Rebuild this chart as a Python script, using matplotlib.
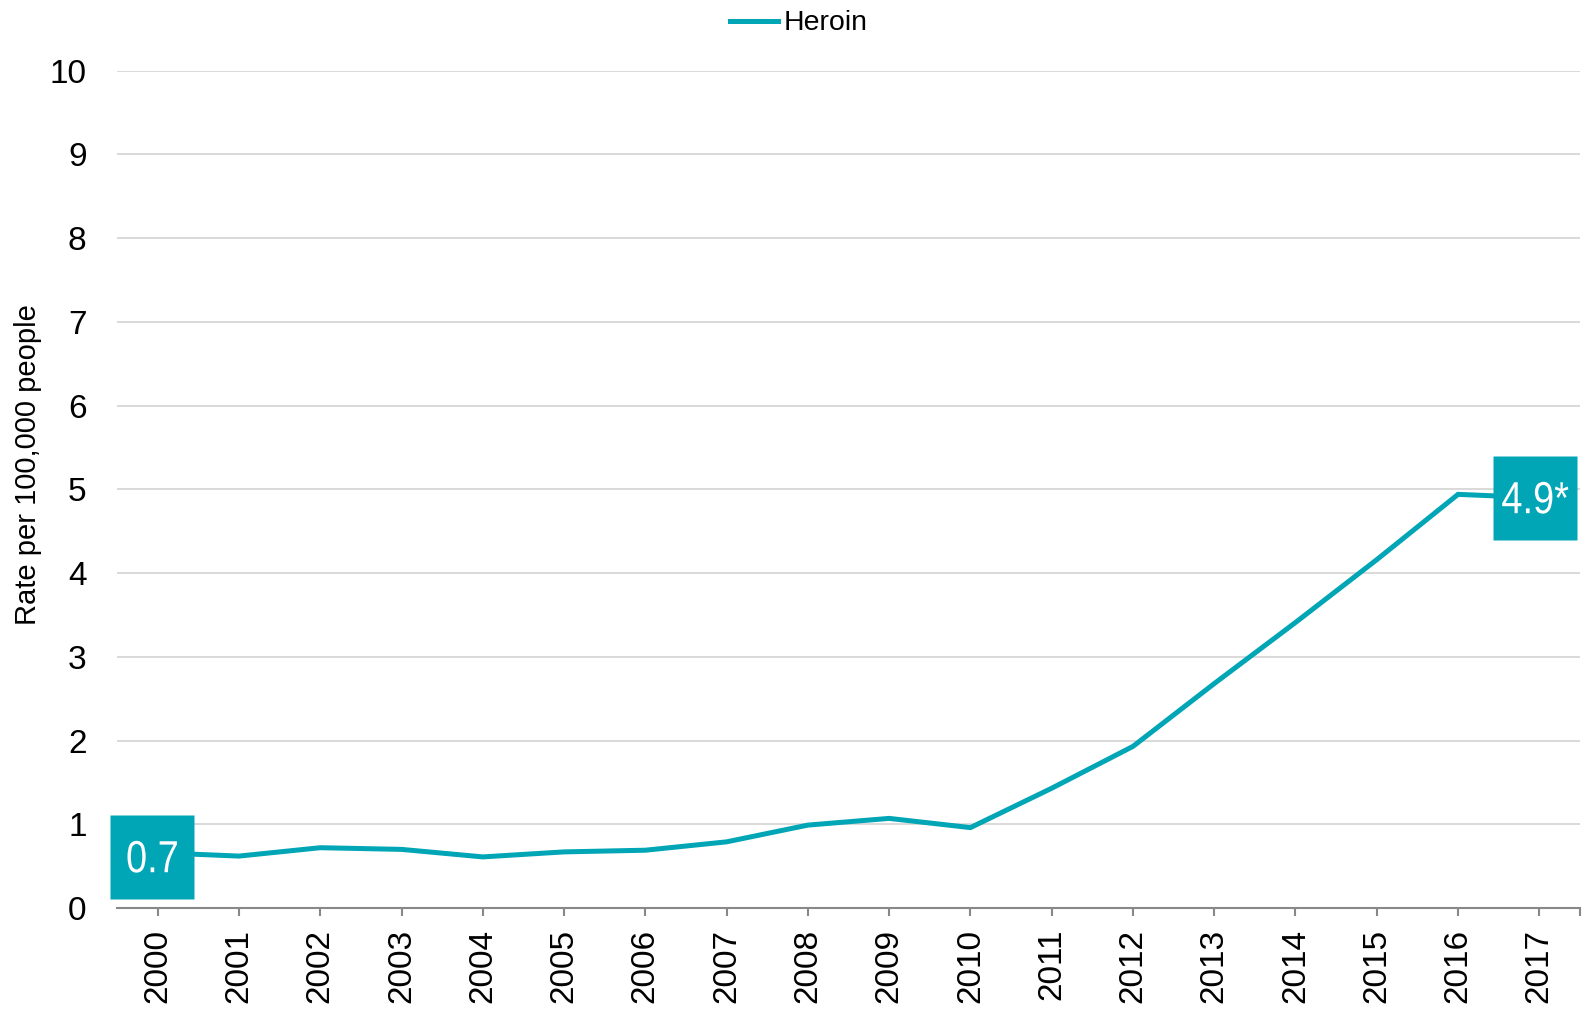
import matplotlib
matplotlib.use("Agg")
import matplotlib.pyplot as plt
import numpy as np
from matplotlib.textpath import TextPath
from matplotlib.patches import PathPatch
from matplotlib.font_manager import FontProperties
from matplotlib.transforms import Affine2D, ScaledTranslation

# Heroin overdose death rate, per 100,000 people
years = [2000, 2001, 2002, 2003, 2004, 2005, 2006, 2007, 2008,
         2009, 2010, 2011, 2012, 2013, 2014, 2015, 2016, 2017]
heroin = [0.66, 0.62, 0.72, 0.70, 0.61, 0.67, 0.69, 0.79, 0.99,
          1.07, 0.96, 1.43, 1.93, 2.68, 3.41, 4.16, 4.94, 4.90]
yticks = [0, 1, 2, 3, 4, 5, 6, 7, 8, 9, 10]
first_label = "0.7"
last_label = "4.9*"

teal = "#00a5b6"
plt.rcParams['font.family'] = ['Liberation Sans', 'DejaVu Sans']

fig = plt.figure(figsize=(15.82, 10.1), dpi=100)
ax = fig.add_axes([0.074, 0.101, 0.9247, 0.829])

x = np.arange(len(years))
line, = ax.plot(x, heroin, color=teal, lw=3.6, label="Heroin",
                solid_joinstyle='miter', zorder=3)

ax.set_xlim(-0.5, len(x) - 0.5)
ax.set_ylim(0, 10)


def value_box(xv, yv, txt, dx, dy):
    # square box centred on the point, with narrow white text
    shift = ScaledTranslation(dx / 100, dy / 100, fig.dpi_scale_trans)
    ax.plot([xv], [yv], marker='s', ms=60, color=teal, mec='none',
            zorder=4, clip_on=False, transform=ax.transData + shift)
    tp = TextPath((0, 0), txt, size=1,
                  prop=FontProperties(family='Liberation Sans'))
    ext = tp.get_extents()
    cx = (ext.x0 + ext.x1) / 2
    cy = (ext.y0 + ext.y1) / 2
    tr = (Affine2D().translate(-cx, -cy).scale(38, 45).translate(dx, dy)
          + ScaledTranslation(xv, yv, ax.transData))
    ax.add_patch(PathPatch(tp, transform=tr, color='white', lw=0,
                           zorder=5, clip_on=False))


value_box(x[0], heroin[0], first_label, -5.5, -4)
value_box(x[-1], heroin[-1], last_label, -4, 0)

ax.set_yticks(yticks)
ax.set_yticklabels([str(v) for v in yticks], fontsize=24)
ax.set_xticks(x)
ax.set_xticklabels([str(y) for y in years], fontsize=24, rotation=90)
ax.set_xticks([len(x) - 0.5], minor=True)

ax.grid(axis='y', color='#d9d9d9', lw=1.4)
ax.set_axisbelow(True)
for s in ['top', 'right', 'left']:
    ax.spines[s].set_visible(False)
ax.spines['bottom'].set_color('#888888')
ax.spines['bottom'].set_linewidth(1.5)
ax.tick_params(axis='y', length=0, pad=22)
ax.tick_params(axis='x', which='both', length=6, width=1.5,
               color='#888888', pad=9)

ax.set_ylabel("Rate per 100,000 people", fontsize=21)
ax.yaxis.set_label_coords(-0.051, 0.53)

fig.legend(handles=[line], loc='upper center', bbox_to_anchor=(0.505, 1.015),
           frameon=False, fontsize=20.5, handlelength=1.7,
           handletextpad=0.2)

fig.savefig("out.png", dpi=100)
